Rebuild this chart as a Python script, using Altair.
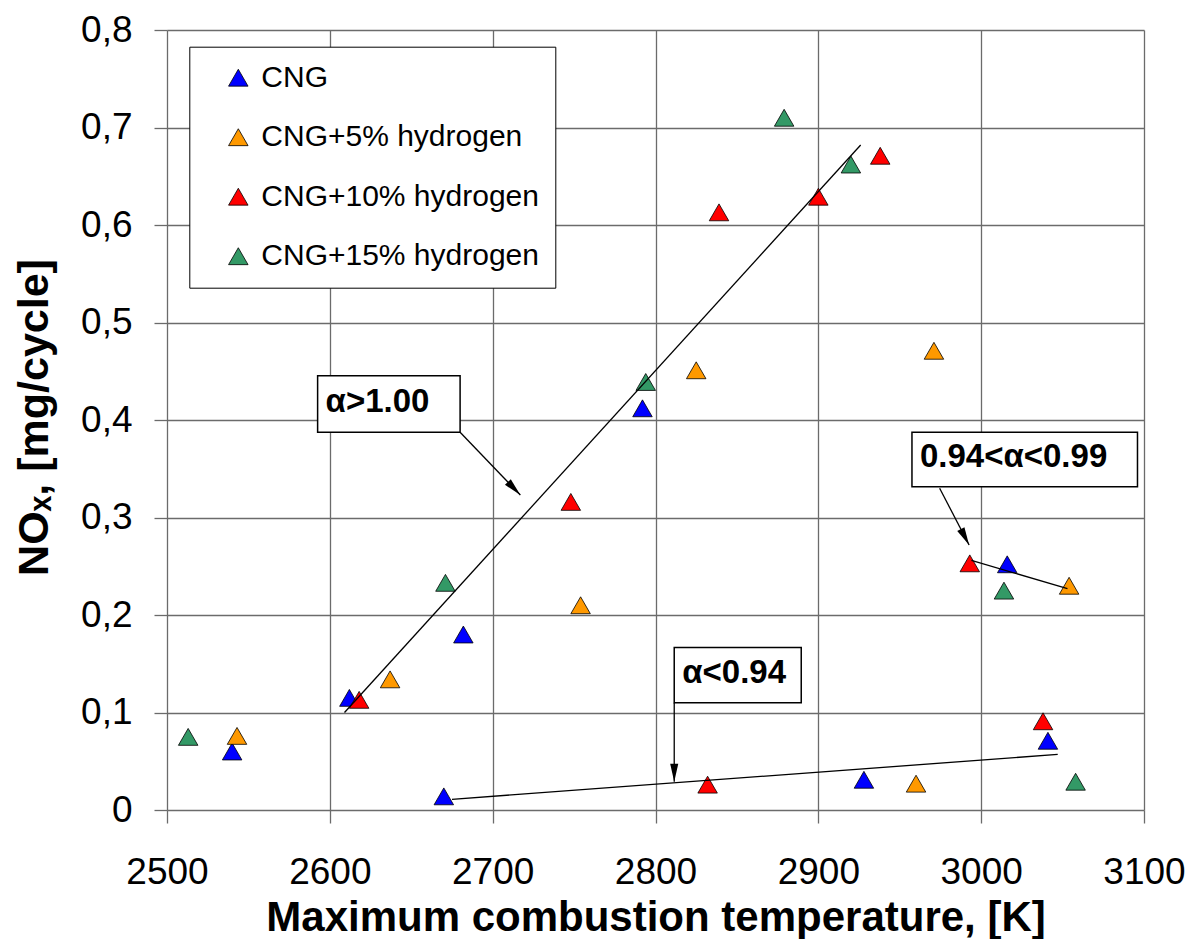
import math
import altair as alt
import pandas as pd

# ---------------- data ----------------
series = ["CNG", "CNG+5% hydrogen", "CNG+10% hydrogen", "CNG+15% hydrogen"]
colors = ["#0000FF", "#FF9900", "#FF0000", "#339966"]

cng_t = [2540, 2612, 2682, 2670, 2792, 2928, 3016, 3041]
cng_v = [0.060, 0.115, 0.180, 0.014, 0.412, 0.031, 0.252, 0.071]
h5_t = [2543, 2637, 2754, 2825, 2971, 2960, 3054]
h5_v = [0.076, 0.134, 0.210, 0.451, 0.471, 0.027, 0.230]
h10_t = [2618, 2748, 2839, 2900, 2938, 2993, 3038, 2832]
h10_v = [0.113, 0.316, 0.613, 0.629, 0.671, 0.253, 0.091, 0.026]
h15_t = [2513, 2671, 2794, 2879, 2920, 3014, 3058]
h15_v = [0.075, 0.233, 0.439, 0.710, 0.662, 0.225, 0.029]

trend_id = ["a", "a", "b", "b", "c", "c"]
trend_t = [2609, 2926, 2675, 3047, 2994, 3053]
trend_v = [0.100, 0.682, 0.011, 0.057, 0.256, 0.227]

ann_text = ["α>1.00", "0.94<α<0.99", "α<0.94"]
ann_t0 = [2592.5, 2957.5, 2811.5]
ann_t1 = [2680.0, 3096.0, 2889.5]
ann_v0 = [0.3874, 0.3316, 0.1099]
ann_v1 = [0.4454, 0.3874, 0.1667]

arrow_t0 = [2680.0, 2974.5, 2811.5]
arrow_v0 = [0.3874, 0.3300, 0.1099]
arrow_t1 = [2717.0, 2992.6, 2811.5]
arrow_v1 = [0.3231, 0.2718, 0.0290]

x_ticks = [2500, 2600, 2700, 2800, 2900, 3000, 3100]
y_ticks = [0.0, 0.1, 0.2, 0.3, 0.4, 0.5, 0.6, 0.7, 0.8]

W, H = 977, 780
FONT = "Liberation Sans"
GRID = "#6b6b6b"

# ---------------- tables ----------------
rows = []
for name, ts, vs in zip(series, [cng_t, h5_t, h10_t, h15_t], [cng_v, h5_v, h10_v, h15_v]):
    for t, v in zip(ts, vs):
        rows.append({"T": t, "V": v, "series": name})
pts = pd.DataFrame(rows)

trend = pd.DataFrame({"T": trend_t, "V": trend_v, "id": trend_id})
boxes = pd.DataFrame({"T": ann_t0, "T2": ann_t1, "V": ann_v0, "V2": ann_v1,
                      "label": ann_text})
boxes["Vm"] = (boxes["V"] + boxes["V2"]) / 2

angles = []
for t0, v0, t1, v1 in zip(arrow_t0, arrow_v0, arrow_t1, arrow_v1):
    sx = (t1 - t0) * W / 600.0
    up = (v1 - v0) * H / 0.8
    angles.append(math.degrees(math.atan2(sx, up)) % 360)
arrows = pd.DataFrame({"T": arrow_t0, "V": arrow_v0, "T2": arrow_t1, "V2": arrow_v1,
                       "ang": angles})

# ---------------- encodings ----------------
x_scale = alt.Scale(domain=[2500, 3100], nice=False, zero=False)
y_scale = alt.Scale(domain=[0, 0.8], nice=False, zero=False)

x_axis = alt.Axis(values=x_ticks, format="d", grid=True, gridColor=GRID, gridWidth=1.3,
                  gridOpacity=1, domain=False, tickColor=GRID, tickWidth=1.3, tickSize=13,
                  labelFont=FONT, labelFontSize=37, labelColor="black", labelPadding=31,
                  labelFlush=False, labelOverlap=False,
                  title="Maximum combustion temperature, [K]", titleFont=FONT,
                  titleFontSize=42, titleFontWeight="bold", titleColor="black",
                  titleBaseline="alphabetic", titleY=120, titleX=W / 2, titleAlign="center")
y_axis = alt.Axis(values=y_ticks, grid=True, gridColor=GRID, gridWidth=1.3, gridOpacity=1,
                  domain=False, tickColor=GRID, tickWidth=1.3, tickSize=13,
                  labelFont=FONT, labelFontSize=37, labelColor="black", labelPadding=22,
                  labelOverlap=False,
                  labelExpr="datum.value == 0 ? '0' : replace(format(datum.value, '.1f'), '.', ',')",
                  title="NOₓ, [mg/cycle]", titleFont=FONT, titleFontSize=43,
                  titleFontWeight="bold", titleColor="black", titleAngle=270,
                  titleBaseline="alphabetic", titleAlign="center", titleX=-120, titleY=387)

X = alt.X("T:Q", scale=x_scale, axis=x_axis)
Y = alt.Y("V:Q", scale=y_scale, axis=y_axis)

legend = alt.Legend(orient="none", legendX=22.3, legendY=16.7, title=None,
                    labelFont=FONT, labelFontSize=30, labelColor="black", labelOffset=8,
                    labelLimit=600, symbolType="triangle-up", symbolSize=380,
                    symbolStrokeColor="black", symbolStrokeWidth=0.8, symbolOpacity=1,
                    rowPadding=29.5, padding=16, strokeColor="black", fillColor="white",
                    symbolOffset=18, cornerRadius=0)

points = alt.Chart(pts).mark_point(shape="triangle-up", filled=True, size=380,
                                   stroke="black", strokeWidth=0.8, opacity=1).encode(
    x=X, y=Y,
    color=alt.Color("series:N", scale=alt.Scale(domain=series, range=colors),
                    legend=legend, sort=series),
)

lines = alt.Chart(trend).mark_line(color="black", strokeWidth=1.3).encode(
    x=X, y=Y, detail="id:N")

shafts = alt.Chart(arrows).mark_rule(color="black", strokeWidth=1.3).encode(
    x=X, y=Y, x2="T2:Q", y2="V2:Q")

heads = alt.Chart(arrows).mark_point(shape="M0,0L0.45,2L-0.45,2Z", filled=True,
                                     color="black", size=324, opacity=1).encode(
    x=alt.X("T2:Q", scale=x_scale, axis=x_axis),
    y=alt.Y("V2:Q", scale=y_scale, axis=y_axis),
    angle=alt.Angle("ang:Q", scale=None))

rects = alt.Chart(boxes).mark_rect(fill="white", stroke="black", strokeWidth=1.5).encode(
    x=X, y=Y, x2="T2:Q", y2="V2:Q")

texts = alt.Chart(boxes).mark_text(align="left", baseline="middle", dx=8, dy=-2,
                                   font=FONT, fontSize=33, fontWeight="bold",
                                   color="black").encode(
    x=X, y=alt.Y("Vm:Q", scale=y_scale, axis=y_axis), text="label:N")

chart = alt.layer(points, lines, shafts, heads, rects, texts).properties(
    width=W, height=H,
    autosize=alt.AutoSizeParams(type="none"),
    padding={"left": 167, "top": 30, "right": 47, "bottom": 129},
    background="white",
).configure_view(stroke=None)

chart.save("out.html", embed_options={"renderer": "svg", "actions": False})
